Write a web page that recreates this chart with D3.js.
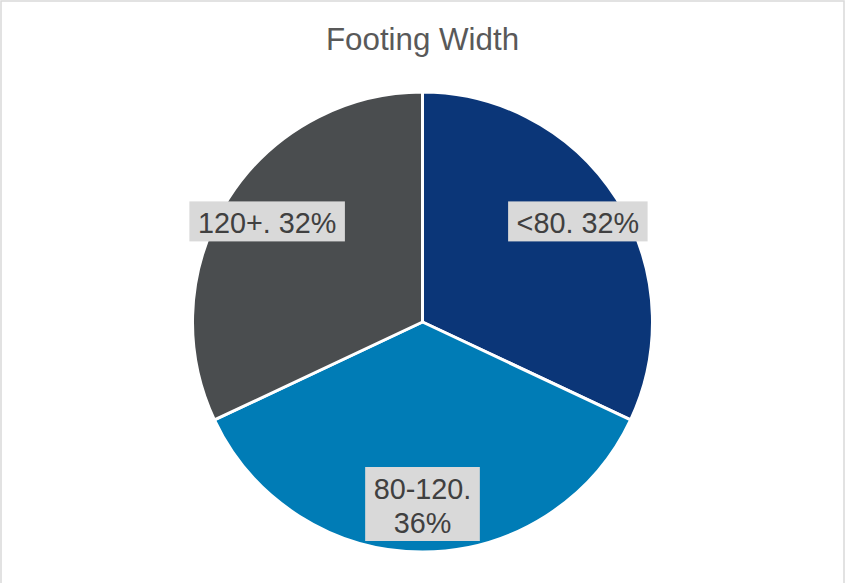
<!DOCTYPE html>
<html>
<head>
<meta charset="utf-8">
<script src="https://cdn.jsdelivr.net/npm/d3@7"></script>
<style>
  html, body { margin: 0; padding: 0; background: #fff; }
  svg { display: block; }
  text { font-family: "Liberation Sans", Arial, sans-serif; }
</style>
</head>
<body>
<svg id="chart" width="845" height="583"></svg>
<script>
// Footing width distribution
const categories = ["<80", "80-120", "120+"];
const shares = [32, 36, 32];
const labelLines = [["<80. 32%"], ["80-120.", "36%"], ["120+. 32%"]];
const colors = ["#0b3678", "#007cb6", "#4a4d4f"];
const title = "Footing Width";

const W = 845, H = 583;
const cx = 422.5, cy = 322, R = 230;

const svg = d3.select("#chart");

// chart frame
svg.append("rect")
  .attr("x", 1).attr("y", 1)
  .attr("width", W - 2).attr("height", H + 10)
  .attr("fill", "#fff")
  .attr("stroke", "#d9d9d9")
  .attr("stroke-width", 1.5);

svg.append("text")
  .attr("x", cx).attr("y", 50)
  .attr("text-anchor", "middle")
  .attr("font-size", 31.3)
  .attr("fill", "#595959")
  .text(title);

const data = categories.map((c, i) => ({ cat: c, value: shares[i], lines: labelLines[i], color: colors[i] }));

const pie = d3.pie().value(d => d.value).sort(null);
const arcs = pie(data);

const arc = d3.arc().innerRadius(0).outerRadius(R);
const labelArc = d3.arc().innerRadius(R * 0.8).outerRadius(R * 0.8);

const g = svg.append("g").attr("transform", `translate(${cx},${cy})`);

g.selectAll("path.slice")
  .data(arcs)
  .join("path")
  .attr("class", "slice")
  .attr("d", arc)
  .attr("fill", d => d.data.color)
  .attr("stroke", "#fff")
  .attr("stroke-width", 3)
  .attr("stroke-linejoin", "round");

const fontSize = 28.8, lineH = 34, padX = 8.5;

const labels = g.selectAll("g.label")
  .data(arcs)
  .join("g")
  .attr("class", "label")
  .attr("transform", d => {
    const [x, y] = labelArc.centroid(d);
    return `translate(${x},${y - 2})`;
  });

labels.each(function (d) {
  const lg = d3.select(this);
  const n = d.data.lines.length;
  const rect = lg.append("rect").attr("fill", "#d9d9d9");
  const txt = lg.append("text")
    .attr("text-anchor", "middle")
    .attr("font-size", fontSize)
    .attr("fill", "#404040");
  d.data.lines.forEach((line, i) => {
    txt.append("tspan")
      .attr("x", 0)
      .attr("y", 12 + (i - (n - 1) / 2) * lineH)
      .text(line);
  });
  const bb = txt.node().getBBox();
  const h = n * lineH + 6;
  rect.attr("x", bb.x - padX)
    .attr("y", -h / 2)
    .attr("width", bb.width + 2 * padX)
    .attr("height", h);
});
</script>
</body>
</html>
